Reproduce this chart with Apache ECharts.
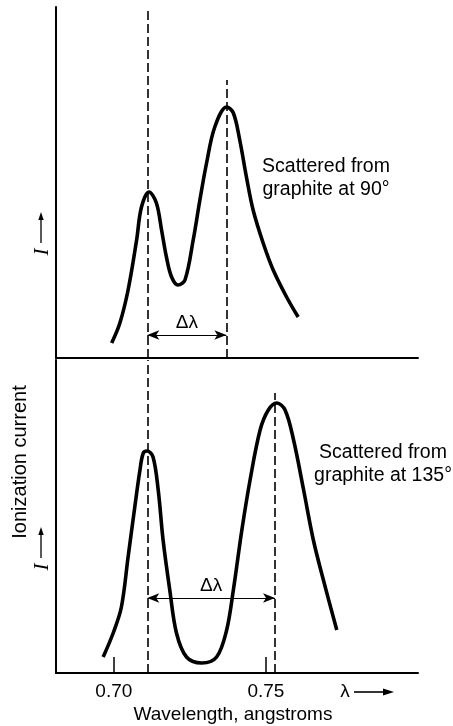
<!DOCTYPE html>
<html>
<head>
<meta charset="utf-8">
<script src="https://cdn.jsdelivr.net/npm/echarts@6/dist/echarts.min.js"></script>
<style>html,body{margin:0;padding:0;background:#fff}#c{width:453px;height:726px}</style>
</head>
<body>
<div id="c"></div>
<script>
// Wavelength (angstroms) and relative ionization current
const lambda90 = [0.6993,0.7020,0.7047,0.7075,0.7091,0.7116,0.7140,0.7157,0.7173,0.7190,0.7211,0.7234,0.7261,0.7283,0.7305,0.7332,0.7371,0.7393,0.7414,0.7436,0.7458,0.7491,0.7524,0.7568,0.7606];
const current90 = [15,35,68,118,151,166,155,128,101,81,73,78,118,158,195,231,251,245,218,181,148,115,88,61,41];
const lambda135 = [0.6965,0.6998,0.7025,0.7047,0.7069,0.7086,0.7097,0.7110,0.7129,0.7146,0.7162,0.7184,0.7206,0.7239,0.7289,0.7338,0.7371,0.7393,0.7421,0.7448,0.7481,0.7508,0.7536,0.7563,0.7591,0.7624,0.7656,0.7689,0.7733];
const current135 = [16,40,66,116,166,203,220,222,216,183,133,83,40,16,10,16,43,83,143,193,243,263,270,263,233,183,133,93,43];
const tickValues = [0.70, 0.75];
const tickLabels = ['0.70', '0.75'];
const unmodified = 0.711;     // primary (unshifted) line
const shifted90 = 0.737;      // Compton line at 90°
const shifted135 = 0.753;     // Compton line at 135°
const xMin = 0.681, xMax = 0.80;
const yMaxTop = 351, yMaxBottom = 313;
const dashTopShifted = 278, dashBottomShifted = 280;
const arrowTopY = 23, arrowBottomY = 75;

const zip = (a, b) => a.map((v, i) => [v, b[i]]);
const FONT = 'Liberation Sans';
const dashStyle = {color: '#000', type: [9, 4], width: 1.6};
const arrowLine = (x1, x2, y) => ({
  silent: true,
  symbol: ['arrow', 'arrow'],
  symbolSize: [7, 12],
  lineStyle: {color: '#000', type: 'solid', width: 1.2},
  label: {show: true, position: 'middle', formatter: 'Δλ', color: '#000', fontSize: 19, fontFamily: FONT, distance: 3},
  data: [[{coord: [x1, y]}, {coord: [x2, y]}]]
});

// vertical "I ->" labels
const iArrow = (yI, yTop) => ([
  {type: 'text', x: 42, y: yI, rotation: Math.PI / 2,
   style: {text: 'I', font: 'italic 21px "Liberation Serif"', fill: '#000', align: 'center', verticalAlign: 'middle'}},
  {type: 'line', shape: {x1: 41, y1: yI - 9, x2: 41, y2: yTop + 4}, style: {stroke: '#000', lineWidth: 1.3}},
  {type: 'polygon', shape: {points: [[41, yTop], [38.3, yTop + 8], [43.7, yTop + 8]]}, style: {fill: '#000'}}
]);

const chart = echarts.init(document.getElementById('c'), null, {renderer: 'canvas'});
chart.setOption({
  animation: false,
  backgroundColor: '#fff',
  grid: [
    {left: 56, width: 362, top: 7, height: 351},
    {left: 56, width: 362, top: 360, height: 313}
  ],
  xAxis: [
    {gridIndex: 0, type: 'value', min: xMin, max: xMax, splitLine: {show: false},
     axisLine: {show: true, onZero: false, lineStyle: {color: '#000', width: 2}},
     axisTick: {show: false}, axisLabel: {show: false}},
    {gridIndex: 1, type: 'value', min: xMin, max: xMax, splitLine: {show: false},
     axisLine: {show: true, onZero: false, lineStyle: {color: '#000', width: 2}},
     axisTick: {show: true, inside: true, length: 16, customValues: tickValues, lineStyle: {color: '#000', width: 1.5}},
     axisLabel: {show: true, customValues: tickValues, margin: 9, color: '#000', fontSize: 19, fontFamily: FONT,
       formatter: v => tickLabels[tickValues.findIndex(t => Math.abs(t - v) < 1e-9)] || ''}}
  ],
  yAxis: [
    {gridIndex: 0, type: 'value', min: 0, max: yMaxTop, splitLine: {show: false},
     axisLine: {show: true, lineStyle: {color: '#000', width: 2}}, axisTick: {show: false}, axisLabel: {show: false}},
    {gridIndex: 1, type: 'value', min: 0, max: yMaxBottom, splitLine: {show: false},
     axisLine: {show: true, lineStyle: {color: '#000', width: 2}}, axisTick: {show: false}, axisLabel: {show: false}}
  ],
  series: [
    {type: 'line', xAxisIndex: 0, yAxisIndex: 0, data: zip(lambda90, current90), smooth: 0.35, showSymbol: false,
     lineStyle: {color: '#000', width: 3.6}, silent: true,
     markLine: {silent: true, symbol: ['none', 'none'], lineStyle: dashStyle, label: {show: false},
       data: [[{coord: [unmodified, 0]}, {coord: [unmodified, yMaxTop]}],
              [{coord: [shifted90, 0]}, {coord: [shifted90, dashTopShifted]}]]}},
    {type: 'line', xAxisIndex: 0, yAxisIndex: 0, data: [], markLine: arrowLine(unmodified, shifted90, arrowTopY)},
    {type: 'line', xAxisIndex: 1, yAxisIndex: 1, data: zip(lambda135, current135), smooth: 0.35, showSymbol: false,
     lineStyle: {color: '#000', width: 3.6}, silent: true,
     markLine: {silent: true, symbol: ['none', 'none'], lineStyle: dashStyle, label: {show: false},
       data: [[{coord: [unmodified, 0]}, {coord: [unmodified, yMaxBottom]}],
              [{coord: [shifted135, 0]}, {coord: [shifted135, dashBottomShifted]}]]}},
    {type: 'line', xAxisIndex: 1, yAxisIndex: 1, data: [], markLine: arrowLine(unmodified, shifted135, arrowBottomY)}
  ],
  graphic: [
    {type: 'text', x: 326, y: 178, style: {text: 'Scattered from\ngraphite at 90°', fill: '#000', font: '19.5px "Liberation Sans"', lineHeight: 23, align: 'center', verticalAlign: 'middle'}},
    {type: 'text', x: 383, y: 464, style: {text: 'Scattered from\ngraphite at 135°', fill: '#000', font: '19.5px "Liberation Sans"', lineHeight: 23, align: 'center', verticalAlign: 'middle'}},
    {type: 'text', x: 20, y: 462, rotation: Math.PI / 2,
     style: {text: 'Ionization current', fill: '#000', font: '20px "Liberation Sans"', align: 'center', verticalAlign: 'middle'}},
    ...iArrow(252, 212),
    ...iArrow(567, 527),
    {type: 'text', x: 345, y: 692,
     style: {text: 'λ', fill: '#000', font: '19px "Liberation Sans"', align: 'center', verticalAlign: 'middle'}},
    {type: 'line', shape: {x1: 354, y1: 692, x2: 385, y2: 692}, style: {stroke: '#000', lineWidth: 1.6}},
    {type: 'polygon', shape: {points: [[394, 692], [383, 688.5], [383, 695.5]]}, style: {fill: '#000'}},
    {type: 'text', x: 233, y: 715,
     style: {text: 'Wavelength, angstroms', fill: '#000', font: '19px "Liberation Sans"', align: 'center', verticalAlign: 'middle'}}
  ]
});
</script>
</body>
</html>
